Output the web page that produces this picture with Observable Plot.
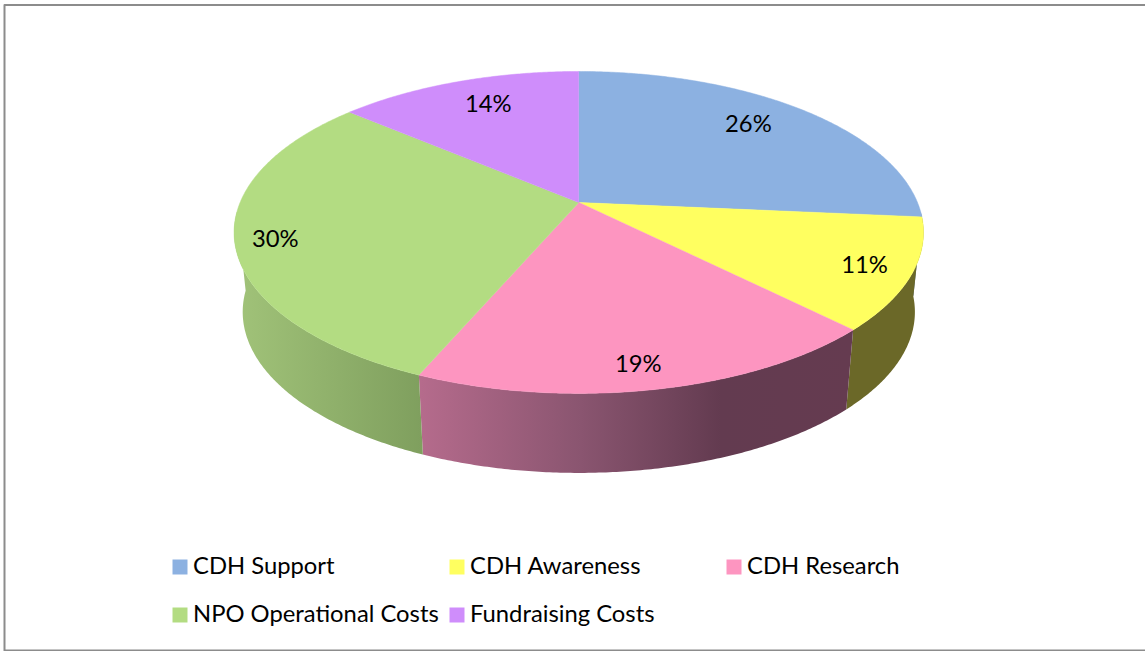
<!DOCTYPE html>
<html>
<head>
<meta charset="utf-8">
<script src="https://cdn.jsdelivr.net/npm/d3@7"></script>
<script src="https://cdn.jsdelivr.net/npm/@observablehq/plot@0.6"></script>
<style>html,body{margin:0;padding:0;background:#fff;overflow:hidden}svg{display:block}</style>
</head>
<body>
<div id="chart"></div>
<script>
const categories = ["CDH Support","CDH Awareness","CDH Research","NPO Operational Costs","Fundraising Costs"];
const shares = [26.45, 11.15, 18.8, 29.9, 13.7];

const topColors = ["#8cb1e1","#ffff60","#fd95c0","#b3dc82","#cf8dfb"];
const wallStops = [["#5a7496","#5a7496"],["#6b6828","#6b6828"],["#b56b8c","#8a5570","#633b50","#653b50"],["#a1c379","#7f9f5e"],["#8a5ea8","#8a5ea8"]];
const wallStopX = [[700,900],[840,925],[420,580,720,850],[235,422],[350,580]];
const labelRadius = [0.76,0.86,0.89,0.88,0.79];
const labelDx = [-4,3,-8,-2,8];
const labelDy = [-5,2,0,5,0];
const legendX = [172,449,726,172,449];
const legendY = [566.5,566.5,566.5,614.5,614.5];

// Perspective disc: apex, half-axes, tilt
const CX = 578.3, CY = 202, A = 338.7, B = 155.4, K = -0.186, INSET = 0.975, DEPTH = 79.5, WALL_W = 0.05;
const project = (deg, r = 1) => {
  const t = deg * Math.PI / 180, u = r * Math.sin(t), w = -r * Math.cos(t), d = 1 + K * w;
  return {x: CX + A * u / d, y: CY + B * w / d, w};
};
const lower = p => ({x: CX + INSET * (p.x - CX), y: p.y + DEPTH});

const total = d3.sum(shares);
let acc = 0;
const slices = categories.map((name, i) => {
  const a0 = acc / total * 360; acc += shares[i];
  return {name, i, a0, a1: acc / total * 360, pct: shares[i] / total};
});

const topPts = [];
const wallPts = [];
for (const s of slices) {
  const c = topColors[s.i], g = `url(#wall-${s.i})`;
  topPts.push({x: CX, y: CY, k: s.i, c});
  const n = Math.ceil((s.a1 - s.a0) * 2);
  const rim = [];
  for (let j = 0; j <= n; j++) {
    const p = project(s.a0 + (s.a1 - s.a0) * j / n);
    topPts.push({x: p.x, y: p.y, k: s.i, c});
    if (p.w > WALL_W) rim.push(p);
  }
  if (rim.length > 1) {
    for (const v of rim) wallPts.push({x: v.x, y: v.y, k: s.i, c: g});
    for (const v of rim.slice().reverse().map(lower)) wallPts.push({x: v.x, y: v.y, k: s.i, c: g});
  }
}

const labels = slices.map(s => {
  const p = project((s.a0 + s.a1) / 2, labelRadius[s.i]);
  return {x: p.x + labelDx[s.i], y: p.y + labelDy[s.i], t: d3.format(".0%")(s.pct)};
});
const legend = categories.map((name, i) => ({name, x: legendX[i], y: legendY[i], c: topColors[i]}));

const SVGNS = "http://www.w3.org/2000/svg";
const gradients = () => {
  const defs = document.createElementNS(SVGNS, "defs");
  wallStops.forEach((stops, i) => {
    const g = document.createElementNS(SVGNS, "linearGradient");
    const xs = wallStopX[i], x0 = xs[0], x1 = xs[xs.length - 1];
    g.setAttribute("id", `wall-${i}`);
    g.setAttribute("gradientUnits", "userSpaceOnUse");
    g.setAttribute("x1", x0); g.setAttribute("x2", x1);
    g.setAttribute("y1", 0); g.setAttribute("y2", 0);
    stops.forEach((col, j) => {
      const st = document.createElementNS(SVGNS, "stop");
      st.setAttribute("offset", (xs[j] - x0) / (x1 - x0));
      st.setAttribute("stop-color", col);
      g.append(st);
    });
    defs.append(g);
  });
  return defs;
};

const FONT = "Lato, 'Open Sans', sans-serif";
const chart = Plot.plot({
  width: 1145, height: 651,
  margin: 0,
  style: {background: "#fff", fontFamily: FONT},
  x: {domain: [0, 1145], range: [0, 1145], axis: null},
  y: {domain: [0, 651], range: [0, 651], axis: null},
  color: {type: "identity"},
  marks: [
    gradients,
    Plot.line([{x:1150,y:4.5},{x:4,y:4.5},{x:4,y:650},{x:1150,y:650}], {x:"x", y:"y", stroke:"#8c8c8c", strokeWidth:2, curve:"linear"}),
    Plot.line(wallPts, {x:"x", y:"y", z:"k", fill:"c", stroke:"none", curve:"linear"}),
    Plot.line(topPts, {x:"x", y:"y", z:"k", fill:"c", stroke:"c", strokeWidth:0.5, curve:"linear"}),
    Plot.text(labels, {x:"x", y:"y", text:"t", fontSize:23.8, fill:"#000", fontFamily:FONT}),
    Plot.dot(legend, {x: d => d.x + 7.5, y:"y", symbol:"square", r:8.46, fill:"c", stroke:null}),
    Plot.text(legend, {x: d => d.x + 20.5, y: d => d.y - 1, text:"name", textAnchor:"start", fontSize:23.8, fill:"#000", fontFamily:FONT})
  ]
});
document.getElementById("chart").append(chart);
</script>
</body>
</html>
